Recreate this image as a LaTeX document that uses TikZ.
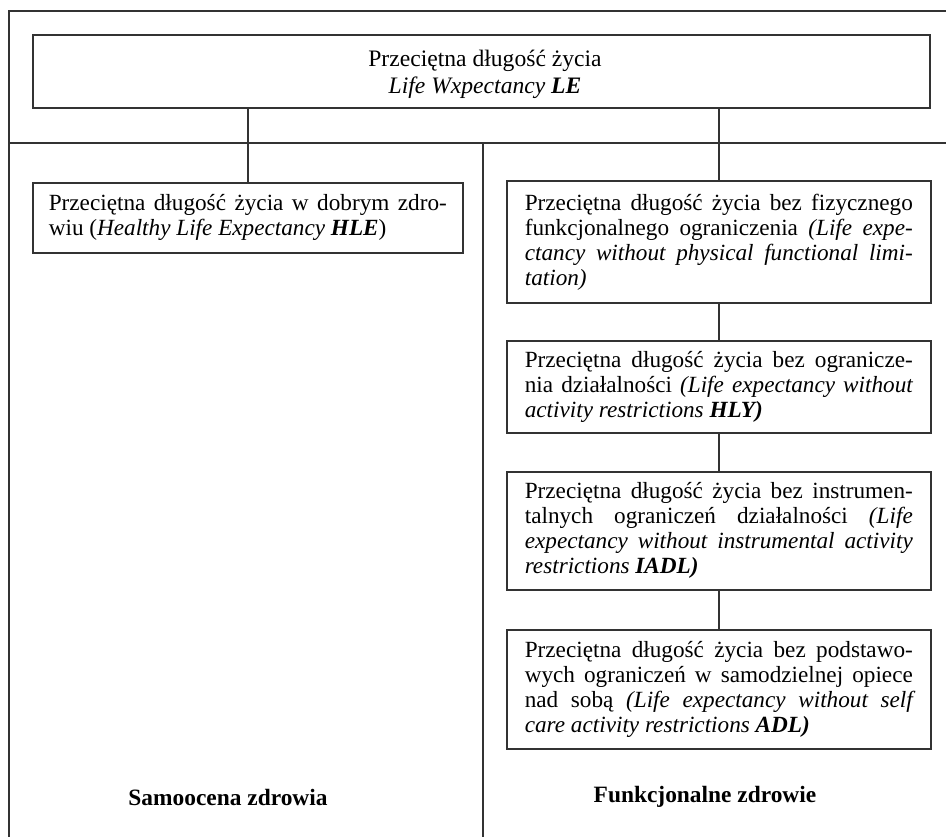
\documentclass[tikz,border=0pt]{standalone}
\usepackage{fontspec}
\setmainfont{Liberation Serif}
\begin{document}
\begin{tikzpicture}[x=0.5pt,y=-0.5pt,
  frame/.style={draw=black!80, line width=0.8pt},
  link/.style={draw=black!80, line width=0.8pt},
  box/.style={draw=black!80, line width=0.8pt, anchor=north west, inner ysep=0pt,
    font=\fontsize{11.6}{12.5}\selectfont, align=justify},
  rbox/.style={box, inner xsep=9pt, text width=194pt, minimum width=212pt},
  lbl/.style={font=\fontsize{11.7}{14}\selectfont\bfseries}]
\useasboundingbox (0,0) rectangle (946,836);
\clip (0,0) rectangle (946,836);
% outer frame and dividers
\draw[frame] (960,11) -- (9,11) -- (9,850);
\draw[frame] (9,143) -- (960,143);
\draw[frame] (483,143) -- (483,850);
% top box
\node[draw=black!80, line width=0.8pt, anchor=north west, minimum width=448.5pt,
  minimum height=36.5pt, inner sep=0pt] (le) at (32,34) {};
\node[align=center, inner sep=0pt, font=\fontsize{11.8}{13.4}\selectfont] (letext) at (485,74)
  {Przeciętna długość życia\\\textit{Life Wxpectancy \textbf{LE}}};
% left box
\node[box, inner xsep=8pt, text width=199pt, minimum height=35pt] (hle) at (32,182)
  {Przeciętna długość życia w dobrym zdro-\linebreak wiu (\textit{Healthy Life Expectancy \textbf{HLE}})};
% right boxes
\node[rbox, minimum height=61pt] (r1) at (506,180)
  {Przeciętna długość życia bez fizycznego\linebreak funkcjonalnego ograniczenia \textit{(Life expe-\linebreak ctancy without physical functional limi-\linebreak tation)}};
\node[rbox, minimum height=46pt] (r2) at (506,340)
  {Przeciętna długość życia bez ogranicze-\linebreak nia działalności \textit{(Life expectancy without\linebreak activity restrictions \textbf{HLY)}}};
\node[rbox, minimum height=59pt] (r3) at (506,471)
  {Przeciętna długość życia bez instrumen-\linebreak talnych ograniczeń działalności \textit{(Life\linebreak expectancy without instrumental activity\linebreak restrictions \textbf{IADL)}}};
\node[rbox, minimum height=59.5pt] (r4) at (506,629)
  {Przeciętna długość życia bez podstawo-\linebreak wych ograniczeń w samodzielnej opiece\linebreak nad sobą \textit{(Life expectancy without self\linebreak care activity restrictions \textbf{ADL)}}};
% connectors
\draw[link] (le.south -| hle.north) -- (hle.north);
\draw[link] (le.south -| r1.north) -- (r1.north);
\draw[link] (r1.south) -- (r2.north);
\draw[link] (r2.south) -- (r3.north);
\draw[link] (r3.south) -- (r4.north);
% bottom labels
\node[lbl] (sam) at (228,797) {Samoocena zdrowia};
\node[lbl] (fun) at (705,797) {Funkcjonalne zdrowie};
\end{tikzpicture}
\end{document}
